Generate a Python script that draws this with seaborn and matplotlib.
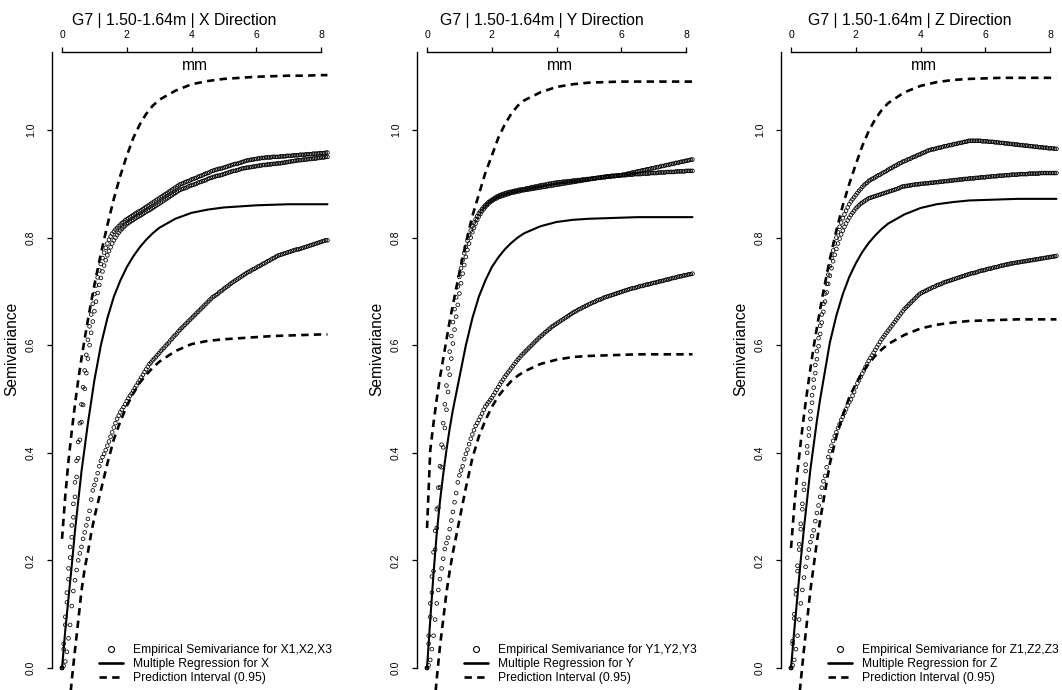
import numpy as np
import pandas as pd
import matplotlib
matplotlib.use("Agg")
import matplotlib.pyplot as plt
from matplotlib.lines import Line2D
import seaborn as sns

# ---------------- data ----------------
LAG = np.linspace(0.0, 8.2, 165)          # empirical lag distances (mm)
LINE_X = [0, .1, .2, .3, .4, .5, .6, .7, .8, .9, 1.0, 1.2, 1.4, 1.6, 1.8, 2.0, 2.2, 2.4,
          2.6, 2.8, 3.0, 3.5, 4.0, 4.5, 5.0, 5.5, 6.0, 6.5, 7.0, 7.5, 8.0, 8.2]

TITLES = ["G7 | 1.50-1.64m | X Direction", "G7 | 1.50-1.64m | Y Direction",
          "G7 | 1.50-1.64m | Z Direction"]
LEG_EMP = ["Empirical Semivariance for X1,X2,X3", "Empirical Semivariance for Y1,Y2,Y3",
           "Empirical Semivariance for Z1,Z2,Z3"]
LEG_REG = ["Multiple Regression for X", "Multiple Regression for Y", "Multiple Regression for Z"]
LEG_PI = "Prediction Interval (0.95)"
X_TICKS = [0, 2, 4, 6, 8]
Y_TICKS = [0.0, 0.2, 0.4, 0.6, 0.8, 1.0]
Y_TICKLABELS = ["0.0", "0.2", "0.4", "0.6", "0.8", "1.0"]

X_EMP_1 = [0, .045, .095, .14, .185, .225, .265, .305, .345, .385, .42, .455, .49, .522, .553, .582, .61, .635, .657, .677,
           .695, .711, .726, .739, .751, .762, .772, .781, .789, .796, .802, .807, .811, .815, .818, .821, .824, .827, .829, .832,
           .834, .836, .838, .84, .842, .844, .846, .848, .849, .851, .853, .855, .857, .859, .861, .863, .865, .867, .869, .871,
           .873, .875, .877, .879, .881, .883, .885, .887, .889, .891, .893, .895, .897, .899, .9, .901, .903, .904, .905, .906,
           .908, .909, .91, .911, .913, .914, .915, .916, .918, .919, .92, .921, .923, .924, .925, .926, .927, .928, .928, .929,
           .93, .931, .932, .933, .934, .935, .936, .937, .937, .938, .939, .94, .941, .942, .943, .944, .944, .945, .945, .946,
           .946, .947, .947, .948, .948, .948, .949, .949, .949, .949, .95, .95, .95, .95, .95, .951, .951, .951, .951, .952,
           .952, .952, .952, .953, .953, .953, .953, .954, .954, .954, .954, .955, .955, .955, .955, .956, .956, .956, .956, .957,
           .957, .957, .957, .958, .958]
X_EMP_2 = [0, .035, .08, .122, .165, .205, .243, .28, .318, .355, .39, .424, .457, .489, .519, .548, .575, .6, .623, .644,
           .663, .681, .697, .712, .725, .737, .748, .758, .767, .775, .782, .789, .795, .8, .805, .809, .813, .816, .819, .822,
           .825, .827, .829, .831, .833, .835, .837, .839, .84, .842, .844, .846, .848, .85, .851, .853, .855, .857, .859, .861,
           .863, .865, .867, .869, .871, .873, .875, .877, .879, .881, .883, .885, .887, .889, .89, .891, .892, .893, .895, .896,
           .897, .898, .899, .9, .902, .903, .904, .905, .906, .907, .909, .91, .911, .912, .913, .914, .915, .915, .916, .917,
           .918, .919, .92, .921, .922, .923, .924, .924, .925, .926, .927, .928, .929, .929, .93, .93, .931, .931, .932, .932,
           .933, .933, .934, .934, .935, .935, .935, .936, .936, .936, .937, .937, .937, .938, .938, .938, .939, .939, .94, .94,
           .941, .941, .942, .942, .943, .943, .944, .944, .944, .945, .945, .945, .946, .946, .946, .947, .947, .947, .948, .948,
           .949, .949, .949, .95, .95]
X_EMP_3 = [0, .004, .012, .03, .055, .08, .115, .143, .163, .182, .2, .213, .225, .24, .252, .265, .277, .292, .313, .33,
           .34, .35, .362, .375, .385, .392, .398, .405, .413, .421, .43, .438, .447, .455, .463, .469, .475, .48, .485, .49,
           .496, .501, .506, .51, .515, .52, .525, .53, .535, .54, .545, .55, .555, .56, .565, .568, .572, .575, .578, .582,
           .585, .589, .592, .595, .599, .602, .605, .609, .612, .616, .619, .622, .626, .629, .632, .635, .638, .641, .644, .647,
           .65, .653, .656, .659, .662, .665, .668, .671, .674, .677, .68, .683, .686, .689, .691, .693, .695, .698, .7, .702,
           .705, .707, .709, .711, .714, .716, .718, .72, .722, .724, .726, .728, .73, .732, .734, .736, .737, .739, .741, .742,
           .744, .746, .747, .749, .751, .752, .754, .756, .757, .759, .761, .762, .764, .766, .767, .768, .769, .77, .771, .772,
           .773, .774, .775, .776, .777, .778, .778, .779, .78, .781, .782, .783, .784, .785, .786, .787, .788, .789, .79, .791,
           .792, .793, .794, .795, .795]
X_REG = [0, .07, .13, .19, .255, .31, .365, .41, .455, .495, .535, .6, .65, .69, .72, .745, .765, .782, .796, .808, .818,
         .835, .846, .852, .856, .858, .86, .861, .862, .862, .862, .862]
X_PI_UP = [.24, .32, .385, .44, .49, .535, .575, .612, .647, .68, .712, .77, .823, .872, .915, .952, .985, 1.01, 1.03, 1.045,
           1.056, 1.073, 1.085, 1.091, 1.095, 1.097, 1.099, 1.1, 1.101, 1.101, 1.102, 1.102]
X_PI_LO = [-.22, -.16, -.09, -.023, .033, .087, .143, .185, .215, .25, .28, .33, .38, .425, .458, .487, .51, .53, .545, .558,
           .569, .589, .602, .608, .611, .613, .615, .617, .618, .619, .62, .62]

Y_EMP_1 = [0, .045, .095, .14, .18, .22, .26, .298, .336, .373, .41, .446, .48, .513, .545, .575, .603, .629, .653, .675,
           .696, .715, .733, .749, .764, .777, .789, .8, .81, .818, .826, .833, .839, .844, .849, .853, .857, .86, .863, .866,
           .868, .87, .872, .873, .875, .876, .877, .878, .879, .88, .881, .882, .883, .884, .884, .885, .886, .886, .887, .888,
           .888, .889, .889, .89, .89, .891, .891, .892, .892, .893, .893, .894, .894, .895, .895, .896, .896, .897, .897, .898,
           .898, .899, .899, .9, .9, .901, .901, .902, .902, .903, .903, .904, .904, .905, .905, .906, .906, .907, .907, .908,
           .908, .909, .909, .91, .91, .911, .911, .912, .912, .913, .913, .914, .914, .914, .915, .915, .915, .915, .916, .916,
           .916, .917, .917, .918, .919, .919, .92, .921, .921, .922, .923, .923, .924, .925, .925, .926, .927, .927, .928, .929,
           .929, .93, .931, .931, .932, .933, .933, .934, .935, .935, .936, .937, .937, .938, .939, .939, .94, .941, .941, .942,
           .943, .943, .944, .945, .945]
Y_EMP_2 = [0, .06, .12, .17, .215, .255, .295, .335, .375, .415, .455, .49, .525, .557, .588, .617, .643, .667, .689, .709,
           .727, .743, .758, .771, .783, .794, .804, .813, .821, .828, .834, .84, .845, .849, .853, .857, .86, .863, .866, .868,
           .87, .872, .874, .876, .877, .879, .88, .881, .882, .883, .884, .885, .885, .886, .887, .887, .888, .889, .889, .89,
           .89, .891, .892, .892, .893, .894, .894, .895, .895, .896, .897, .897, .898, .898, .899, .9, .9, .901, .901, .902,
           .902, .903, .903, .903, .904, .904, .904, .905, .905, .905, .906, .906, .906, .907, .907, .907, .908, .908, .908, .909,
           .909, .909, .91, .91, .91, .911, .911, .911, .912, .912, .912, .913, .913, .913, .914, .914, .914, .915, .915, .915,
           .916, .916, .916, .916, .917, .917, .917, .917, .918, .918, .918, .918, .918, .919, .919, .919, .919, .919, .92, .92,
           .92, .92, .92, .921, .921, .921, .921, .921, .922, .922, .922, .922, .922, .922, .923, .923, .923, .923, .923, .923,
           .924, .924, .924, .924, .924]
Y_EMP_3 = [0, .005, .015, .035, .06, .09, .12, .145, .165, .185, .203, .221, .232, .242, .258, .274, .29, .308, .325, .345,
           .358, .367, .375, .388, .398, .406, .416, .426, .434, .442, .45, .455, .461, .467, .473, .48, .486, .49, .494, .498,
           .502, .507, .512, .517, .522, .527, .532, .536, .541, .545, .549, .553, .557, .561, .565, .569, .573, .576, .58, .583,
           .586, .589, .592, .595, .598, .601, .604, .607, .61, .613, .616, .618, .621, .624, .626, .629, .631, .634, .636, .638,
           .64, .642, .644, .646, .648, .65, .652, .654, .656, .658, .66, .662, .663, .665, .667, .668, .67, .671, .673, .674,
           .676, .677, .679, .68, .681, .683, .684, .685, .686, .688, .689, .69, .691, .692, .693, .694, .695, .696, .697, .698,
           .699, .7, .701, .702, .703, .704, .705, .706, .706, .707, .708, .709, .71, .71, .711, .712, .713, .713, .714, .715,
           .716, .716, .717, .718, .719, .719, .72, .721, .722, .722, .723, .724, .725, .725, .726, .727, .728, .728, .729, .73,
           .73, .731, .732, .732, .733]
Y_REG = [0, .09, .175, .25, .31, .36, .405, .445, .48, .51, .54, .6, .65, .69, .72, .745, .763, .778, .79, .8, .808,
         .821, .829, .833, .835, .836, .837, .838, .838, .838, .838, .838]
Y_PI_UP = [.26, .405, .455, .5, .54, .575, .61, .645, .675, .705, .735, .79, .84, .88, .92, .952, .985, 1.01, 1.03, 1.045,
           1.055, 1.07, 1.08, 1.085, 1.088, 1.089, 1.09, 1.09, 1.09, 1.09, 1.09, 1.09]
Y_PI_LO = [-.25, -.17, -.09, -.02, .04, .09, .14, .18, .215, .245, .275, .335, .39, .43, .46, .485, .505, .52, .533, .543,
           .551, .565, .573, .578, .58, .581, .582, .583, .583, .583, .583, .583]

Z_EMP_1 = [0, .05, .1, .145, .19, .23, .268, .305, .342, .378, .412, .445, .477, .507, .536, .563, .589, .613, .636, .657,
           .677, .696, .714, .731, .747, .762, .776, .789, .8, .81, .82, .828, .836, .843, .85, .856, .862, .867, .871, .875,
           .879, .883, .887, .89, .894, .897, .9, .902, .905, .907, .909, .91, .912, .914, .916, .917, .919, .921, .922, .924,
           .926, .928, .929, .931, .933, .934, .936, .938, .939, .941, .942, .943, .945, .946, .947, .949, .95, .951, .953, .954,
           .955, .957, .958, .959, .961, .962, .963, .964, .964, .965, .966, .967, .967, .968, .969, .97, .97, .971, .972, .972,
           .973, .974, .974, .975, .976, .976, .977, .978, .978, .979, .98, .98, .98, .98, .98, .98, .98, .98, .979, .979,
           .979, .979, .978, .978, .978, .978, .977, .977, .977, .976, .976, .976, .975, .975, .975, .974, .974, .974, .973, .973,
           .973, .972, .972, .972, .971, .971, .971, .97, .97, .97, .969, .969, .969, .968, .968, .968, .967, .967, .967, .966,
           .966, .966, .966, .965, .965]
Z_EMP_2 = [0, .045, .092, .137, .18, .22, .258, .295, .331, .366, .4, .432, .463, .493, .521, .548, .574, .598, .621, .642,
           .662, .681, .698, .714, .729, .743, .756, .768, .779, .789, .798, .806, .813, .82, .826, .832, .837, .842, .846, .85,
           .854, .857, .86, .863, .865, .867, .869, .871, .873, .874, .875, .876, .877, .878, .879, .88, .881, .882, .883, .884,
           .885, .886, .887, .888, .889, .89, .891, .892, .894, .895, .895, .896, .896, .897, .897, .898, .898, .899, .899, .899,
           .9, .9, .9, .901, .901, .901, .902, .902, .902, .903, .903, .903, .904, .904, .904, .905, .905, .905, .906, .906,
           .906, .907, .907, .907, .908, .908, .908, .909, .909, .909, .91, .91, .91, .91, .911, .911, .911, .912, .912, .912,
           .912, .913, .913, .913, .914, .914, .914, .914, .915, .915, .915, .915, .916, .916, .916, .916, .917, .917, .917, .917,
           .917, .918, .918, .918, .918, .918, .918, .919, .919, .919, .919, .919, .919, .919, .92, .92, .92, .92, .92, .92,
           .92, .92, .92, .92, .92]
Z_EMP_3 = [0, .005, .015, .035, .06, .09, .12, .145, .168, .188, .205, .22, .234, .245, .256, .273, .288, .302, .318, .335,
           .347, .357, .373, .392, .403, .413, .422, .431, .438, .446, .453, .461, .467, .474, .481, .488, .494, .499, .506, .513,
           .522, .529, .535, .541, .547, .553, .559, .565, .571, .576, .581, .586, .591, .596, .601, .606, .611, .615, .619, .623,
           .627, .631, .635, .639, .643, .647, .651, .655, .659, .663, .667, .67, .673, .676, .679, .682, .685, .688, .691, .694,
           .696, .698, .699, .701, .702, .704, .705, .707, .708, .709, .711, .712, .713, .714, .716, .717, .718, .719, .72, .721,
           .722, .723, .724, .725, .726, .727, .728, .729, .73, .731, .732, .733, .734, .734, .735, .736, .737, .738, .739, .739,
           .74, .741, .742, .742, .743, .744, .745, .745, .746, .747, .748, .748, .749, .75, .75, .751, .752, .752, .753, .753,
           .754, .754, .755, .755, .756, .756, .757, .757, .758, .758, .759, .759, .76, .76, .761, .761, .762, .762, .763, .763,
           .764, .764, .765, .765, .766]
Z_REG = [0, .07, .135, .2, .26, .315, .37, .415, .46, .5, .535, .605, .655, .695, .727, .752, .773, .79, .804, .816, .826,
         .843, .855, .862, .866, .869, .87, .871, .872, .872, .872, .872]
Z_PI_UP = [.223, .3, .365, .42, .47, .515, .557, .597, .633, .667, .7, .76, .813, .86, .9, .936, .97, .998, 1.02, 1.037,
           1.05, 1.07, 1.082, 1.089, 1.093, 1.095, 1.096, 1.097, 1.097, 1.097, 1.097, 1.097]
Z_PI_LO = [-.22, -.155, -.09, -.025, .035, .09, .145, .19, .235, .275, .31, .38, .43, .47, .503, .528, .549, .566, .58, .592,
           .602, .619, .631, .638, .642, .645, .646, .647, .648, .648, .648, .648]

PANELS = [
    (X_EMP_1, X_EMP_2, X_EMP_3, X_REG, X_PI_UP, X_PI_LO),
    (Y_EMP_1, Y_EMP_2, Y_EMP_3, Y_REG, Y_PI_UP, Y_PI_LO),
    (Z_EMP_1, Z_EMP_2, Z_EMP_3, Z_REG, Z_PI_UP, Z_PI_LO),
]

# ---------------- style ----------------
sns.set_theme(style="white")
plt.rcParams["font.family"] = ["Liberation Sans", "DejaVu Sans"]
plt.rcParams.update({
    "axes.edgecolor": "black", "xtick.color": "black", "ytick.color": "black",
    "text.color": "black", "axes.labelcolor": "black",
})

W, H = 1062, 690
fig = plt.figure(figsize=(W / 100, H / 100), dpi=100)
fig.patch.set_facecolor("white")

SPINE_PX = [52, 417, 781]
TITLE_PX = [174, 542, 910]
DASH = (0, (2.8, 2.0))

for i, (e1, e2, e3, reg, up, lo) in enumerate(PANELS):
    left = SPINE_PX[i]
    ax = fig.add_axes([left / W, 0.0, 278.7 / W, 638 / H])
    ax.set_xlim(-0.31, 8.3)
    ax.set_ylim(-0.041, 1.145)

    for ser in (e1, e2, e3):
        n = min(len(LAG), len(ser))
        df = pd.DataFrame({"lag": LAG[:n], "gamma": ser[:n]})
        sns.scatterplot(data=df, x="lag", y="gamma", ax=ax, marker="o", s=7,
                        facecolor="none", edgecolor="black", linewidth=0.55, zorder=3)

    dfl = pd.DataFrame({"h": LINE_X, "reg": reg, "up": up, "lo": lo})
    sns.lineplot(data=dfl, x="h", y="reg", ax=ax, color="black", lw=1.5,
                 estimator=None, sort=False, zorder=4)
    for col in ("up", "lo"):
        sns.lineplot(data=dfl, x="h", y=col, ax=ax, color="black", lw=1.9, ls=DASH,
                     estimator=None, sort=False, zorder=4)

    # axes styling (R base-graphics look)
    for s in ("bottom", "right"):
        ax.spines[s].set_visible(False)
    ax.spines["top"].set_bounds(0, 8)
    ax.spines["left"].set_bounds(0, 1.145)
    for s in ("top", "left"):
        ax.spines[s].set_linewidth(1.0)
        ax.spines[s].set_color("black")
    ax.xaxis.tick_top()
    ax.set_xticks(X_TICKS)
    ax.set_xticklabels([str(t) for t in X_TICKS])
    ax.tick_params(axis="x", top=True, bottom=False, labeltop=True, labelbottom=False,
                   direction="out", length=3.6, width=0.9, labelsize=7.5, pad=5)
    ax.set_yticks(Y_TICKS)
    ax.set_yticklabels(Y_TICKLABELS, rotation=90, va="center")
    ax.tick_params(axis="y", left=True, right=False, direction="out", length=3.6,
                   width=0.9, labelsize=7.5, pad=8)
    ax.set_xlabel("")
    ax.set_ylabel("")
    ax.grid(False)

    ax.text(4.1, (690 - 65) / 638, "mm", transform=ax.get_xaxis_transform(),
            ha="center", va="center", fontsize=11.2)
    fig.text(TITLE_PX[i] / W, 1 - 21 / H, TITLES[i], ha="center", va="center", fontsize=11.4)
    fig.text((left - 40) / W, 1 - 349 / H, "Semivariance", rotation=90,
             ha="center", va="center", fontsize=11.2)

    handles = [
        Line2D([], [], marker="o", ls="none", mfc="none", mec="black", ms=4.3, mew=0.8),
        Line2D([], [], color="black", lw=1.9),
        Line2D([], [], color="black", lw=1.9, ls=DASH),
    ]
    ax.legend(handles, [LEG_EMP[i], LEG_REG[i], LEG_PI], loc="center left",
              bbox_to_anchor=((left + 47) / W, 1 - 664 / H), bbox_transform=fig.transFigure,
              frameon=False, fontsize=8.7, borderpad=0, borderaxespad=0,
              handlelength=2.0, handletextpad=0.85, labelspacing=0.17)

fig.savefig("out.png", dpi=100, facecolor="white")
